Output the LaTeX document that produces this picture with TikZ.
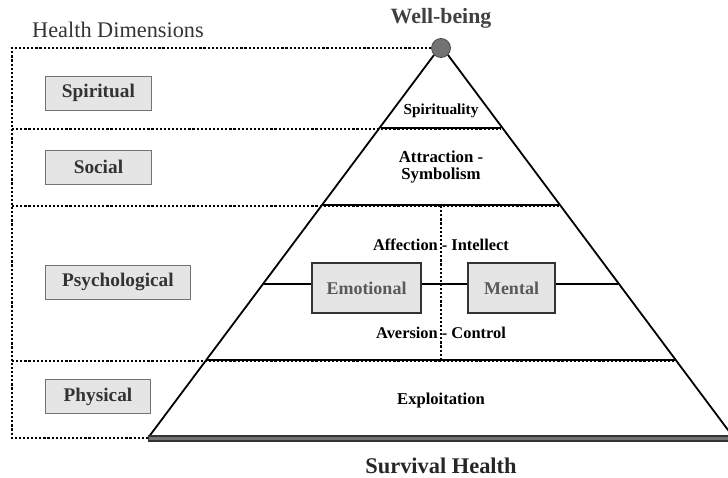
\documentclass[tikz,border=0pt]{standalone}
\usepackage{fontspec}
\setmainfont{Liberation Serif}
\begin{document}
\begin{tikzpicture}[x=1pt,y=-1pt,
  dimbox/.style={draw=black!55, fill=black!10, line width=0.9pt, minimum height=34pt, inner sep=0pt,
    font=\fontsize{19.3}{21}\selectfont\bfseries, text=black!80, anchor=west},
  midbox/.style={draw=black!80, fill=black!10, line width=1.2pt, minimum height=50pt, inner sep=0pt,
    font=\fontsize{18}{20}\selectfont\bfseries, text=black!65},
  dotline/.style={line width=2.6pt, dash pattern=on 2.2pt off 1.9pt, black},
  side/.style={line width=1.8pt, black},
  layerline/.style={line width=1.8pt, black},
  lbl/.style={text=black, align=center, inner sep=0pt},
]
\useasboundingbox (0,0) rectangle (728,477);
\clip (0,0) rectangle (728,477);

% key coordinates
\coordinate (tl) at (12,48);
\coordinate (bl) at (12,438);
\coordinate (baseL) at (148,438);
\coordinate (baseR) at (734,438);
\coordinate (l1) at (380.7,128); \coordinate (r1) at (501.3,128);
\coordinate (l2) at (322.7,205); \coordinate (r2) at (559.3,205);
\coordinate (pl) at (264,284);   \coordinate (pr) at (618,284);
\coordinate (l3) at (206,360);   \coordinate (r3) at (676,360);
\coordinate (d1) at (12,129);
\coordinate (d2) at (12,206);
\coordinate (d3) at (12,361);
\coordinate (vt) at (441,206);
\coordinate (vb) at (441,361);

% apex
\node[circle, minimum size=19pt, inner sep=0pt, fill=black!55, draw=black!70, line width=0.8pt] (apex) at (441,48) {};

% dotted frame
\draw[dotline] (apex.west) -- (tl) -- (bl) -- (baseL);
\draw[dotline] (d1) -- (d1 -| r1);
\draw[dotline] (d2) -- (d2 -| r2);
\draw[dotline] (d3) -- (d3 -| r3);
\draw[dotline] (vt) -- (vb);

% pyramid sides
\draw[side] (apex.south west) -- (baseL);
\draw[side] (apex.south east) -- (baseR);

% layer lines
\draw[layerline] (l1) -- (r1);
\draw[layerline] (l2) -- (r2);
\draw[layerline] (l3) -- (r3);

% base bar
\draw[line width=7pt, black!80] (baseL) -- (baseR);
\draw[line width=3pt, black!55] ([xshift=1pt]baseL) -- (baseR);

% emotional / mental
\node[midbox, minimum width=109pt] (emo) at (366.5,288) {Emotional};
\node[midbox, minimum width=87pt] (men) at (511.5,288) {Mental};
\draw[line width=1.6pt] (pl) -- (pl -| emo.west);
\draw[line width=1.6pt] (emo.east |- pl) -- (pl -| men.west);
\draw[line width=1.6pt] (men.east |- pl) -- (pr);

% left dimension boxes
\node[dimbox, minimum width=106pt] (spir) at (45,93) {Spiritual};
\node[dimbox, minimum width=106pt] (soc) at (45,167) {Social};
\node[dimbox, minimum width=145pt] (psy) at (45,282) {Psychological};
\node[dimbox, minimum width=105pt] (phy) at (45,396.5) {Physical};

% texts
\node[font=\fontsize{22.3}{24}\selectfont, text=black!80, inner sep=0pt] (hd) at (118,30) {Health Dimensions};
\node[font=\fontsize{21.8}{23}\selectfont\bfseries, text=black!75, inner sep=0pt] (wb) at (441,18) {Well-being};
\node[font=\fontsize{22.4}{24}\selectfont\bfseries, text=black!85, inner sep=0pt] (sh) at (441,466) {Survival Health};
\node[lbl, font=\fontsize{15.3}{17}\selectfont\bfseries] (t1) at (441,111) {Spirituality};
\node[lbl, font=\fontsize{16.8}{16.5}\selectfont\bfseries] (t2) at (441,167) {Attraction -\\Symbolism};
\node[lbl, font=\fontsize{16.4}{18}\selectfont\bfseries] (t3) at (441,245) {Affection - Intellect};
\node[lbl, font=\fontsize{16.4}{18}\selectfont\bfseries] (t4) at (441,333) {Aversion - Control};
\node[lbl, font=\fontsize{16.6}{18}\selectfont\bfseries] (t5) at (441,401) {Exploitation};
\end{tikzpicture}
\end{document}
